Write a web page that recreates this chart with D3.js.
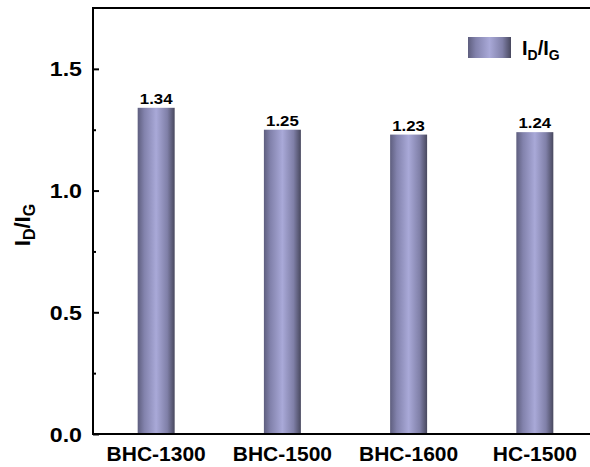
<!DOCTYPE html>
<html><head><meta charset="utf-8">
<script src="https://cdn.jsdelivr.net/npm/d3@7"></script>
<style>body{margin:0;background:#fff}svg{display:block}text{font-family:"Liberation Sans",Arial,sans-serif;font-weight:bold;fill:#000}</style>
</head><body>
<script>
const categories = ["BHC-1300","BHC-1500","BHC-1600","HC-1500"];
const values = [1.34,1.25,1.23,1.24];
const valueLabels = ["1.34","1.25","1.23","1.24"];
const yTicks = [0,0.5,1.0,1.5];
const yTickLabels = ["0.0","0.5","1.0","1.5"];
const yMinorTicks = [0.25,0.75,1.25];

const W=590,H=467;
const m={left:93,top:8,bottom:434,right:598};
const svg=d3.select("body").append("svg").attr("width",W).attr("height",H);
const defs=svg.append("defs");
const g=defs.append("linearGradient").attr("id","bg").attr("x1","0").attr("x2","1").attr("y1","0").attr("y2","0");
[[0,"#5e5e7e"],[0.18,"#8282ac"],[0.5,"#a9a9d8"],[0.8,"#8080a8"],[1,"#48485e"]].forEach(([o,c])=>g.append("stop").attr("offset",o).attr("stop-color",c));

const x=d3.scaleBand().domain(categories).range([m.left,m.right]).paddingInner(0.707).paddingOuter(0.354);
const y=d3.scaleLinear().domain([0,1.75]).range([m.bottom,m.top]);

// bars
svg.selectAll("rect.bar").data(values).enter().append("rect").attr("class","bar")
 .attr("x",(d,i)=>x(categories[i])).attr("width",x.bandwidth())
 .attr("y",d=>y(d)).attr("height",d=>y(0)-y(d)).attr("fill","url(#bg)");
const vs=1.2;
svg.selectAll("text.vl").data(values).enter().append("text").attr("class","vl")
 .attr("transform",(d,i)=>`translate(${x(categories[i])+x.bandwidth()/2},${y(d)-4}) scale(${vs},1)`)
 .attr("text-anchor","middle").attr("font-size",14).text((d,i)=>valueLabels[i]);

// y axis with inward ticks
const ya=svg.append("g").attr("transform",`translate(${m.left},0)`)
 .call(d3.axisRight(y).tickValues(yTicks).tickSize(6).tickFormat(""));
ya.select(".domain").remove();
ya.selectAll(".tick line").attr("stroke","#000").attr("stroke-width",2);
svg.append("g").attr("transform",`translate(${m.left},0)`)
 .call(d3.axisRight(y).tickValues(yMinorTicks).tickSize(3).tickFormat(""))
 .call(s=>{s.select(".domain").remove();s.selectAll(".tick line").attr("stroke","#000").attr("stroke-width",2);});
svg.selectAll("text.yt").data(yTicks).enter().append("text").attr("class","yt")
 .attr("transform",d=>`translate(82,${y(d)+7.5}) scale(1.16,1)`).attr("text-anchor","end").attr("font-size",20)
 .text((d,i)=>yTickLabels[i]);

// x labels
svg.selectAll("text.xl").data(categories).enter().append("text").attr("class","xl")
 .attr("x",d=>x(d)+x.bandwidth()/2).attr("y",461).attr("text-anchor","middle").attr("font-size",21).text(d=>d);

// frame
const fr=svg.append("g").attr("stroke","#000").attr("stroke-width",2).attr("fill","none");
fr.append("line").attr("x1",m.left).attr("x2",m.left).attr("y1",m.top).attr("y2",m.bottom+1);
fr.append("line").attr("x1",m.left-1).attr("x2",W).attr("y1",m.bottom).attr("y2",m.bottom);
fr.append("line").attr("x1",m.left-1).attr("x2",W).attr("y1",m.top).attr("y2",m.top);

// y title
const yt=svg.append("text").attr("transform","translate(30,225) rotate(-90)").attr("text-anchor","middle").attr("font-size",22);
yt.append("tspan").text("I");
yt.append("tspan").attr("font-size",16).attr("dy",5).text("D");
yt.append("tspan").attr("dy",-5).text("/I");
yt.append("tspan").attr("font-size",16).attr("dy",5).text("G");

// legend
svg.append("rect").attr("x",468).attr("y",37).attr("width",43).attr("height",21).attr("fill","url(#bg)");
const lt=svg.append("text").attr("x",522).attr("y",55).attr("font-size",20);
lt.append("tspan").text("I");
lt.append("tspan").attr("font-size",14).attr("dy",5).text("D");
lt.append("tspan").attr("dy",-5).text("/I");
lt.append("tspan").attr("font-size",14).attr("dy",5).text("G");
</script>
</body></html>
